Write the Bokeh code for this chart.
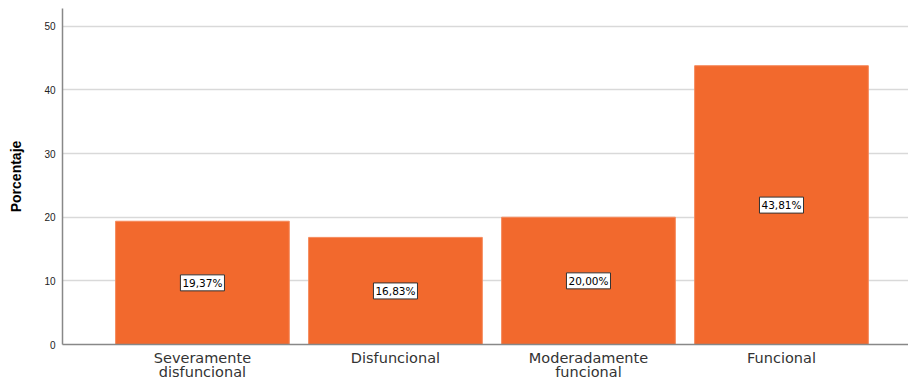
from bokeh.plotting import figure
from bokeh.models import ColumnDataSource, Range1d, FixedTicker
from bokeh.core.properties import value
from bokeh.embed import file_html
from bokeh.resources import INLINE

categories = ["Severamente\ndisfuncional", "Disfuncional", "Moderadamente\nfuncional", "Funcional"]
percentages = [19.37, 16.83, 20.00, 43.81]
y_ticks = [0, 10, 20, 30, 40, 50]

xs = list(range(len(categories)))
source = ColumnDataSource(data=dict(
    x=xs,
    top=percentages,
    mid=[v / 2 for v in percentages],
    label=[f"{v:.2f}%".replace(".", ",") for v in percentages],
))

p = figure(
    width=908, height=379,
    frame_width=846, frame_height=336,
    x_range=Range1d(-0.725, 3.658),
    y_range=Range1d(0, 52.8),
    output_backend="svg", toolbar_location=None,
    min_border_left=62, min_border_right=0, min_border_top=8, min_border_bottom=35,
)
p.outline_line_color = None
p.background_fill_color = "white"
p.border_fill_color = "white"

p.vbar(x="x", top="top", width=0.9, bottom=0, source=source,
       fill_color="#F2692D", line_color="#F58A5C", line_width=1)

# value labels in boxed tags at mid-height of each bar
p.text(x="x", y="mid", text="label", source=source,
       text_align="center", text_baseline="middle",
       text_font=value("DejaVu Sans"), text_font_size="10.5px", text_color="black",
       background_fill_color="white", border_line_color="#333333",
       border_line_width=1, padding=2)

# y axis
p.yaxis.ticker = FixedTicker(ticks=y_ticks)
p.yaxis.axis_label = "Porcentaje"
p.yaxis.axis_label_text_font = "Liberation Sans"
p.yaxis.axis_label_text_font_style = "bold"
p.yaxis.axis_label_text_font_size = "14px"
p.yaxis.axis_label_text_color = "black"
p.yaxis.axis_label_standoff = 17
p.yaxis.major_label_text_font = "Liberation Sans"
p.yaxis.major_label_text_font_size = "10px"
p.yaxis.major_label_text_color = "#222222"
p.yaxis.major_label_standoff = 7
p.yaxis.major_tick_out = 0
p.yaxis.major_tick_in = 0
p.yaxis.minor_tick_out = 0
p.yaxis.minor_tick_in = 0
p.yaxis.axis_line_color = "#888888"
p.yaxis.axis_line_width = 1.5

# x axis
p.xaxis.ticker = FixedTicker(ticks=xs)
p.xaxis.major_label_overrides = {i: c for i, c in zip(xs, categories)}
p.xaxis.major_label_text_font = "DejaVu Sans"
p.xaxis.major_label_text_font_size = "14.5px"
p.xaxis.major_label_text_color = "#333333"
p.xaxis.major_label_text_line_height = 0.9
p.xaxis.major_label_standoff = 5
p.xaxis.major_tick_out = 0
p.xaxis.major_tick_in = 0
p.xaxis.minor_tick_out = 0
p.xaxis.minor_tick_in = 0
p.xaxis.axis_line_color = "#888888"
p.xaxis.axis_line_width = 1.5

p.xgrid.grid_line_color = None
p.ygrid.grid_line_color = "#d9d9d9"
p.ygrid.grid_line_width = 1.5

open("out.html", "w").write(file_html(p, INLINE))
